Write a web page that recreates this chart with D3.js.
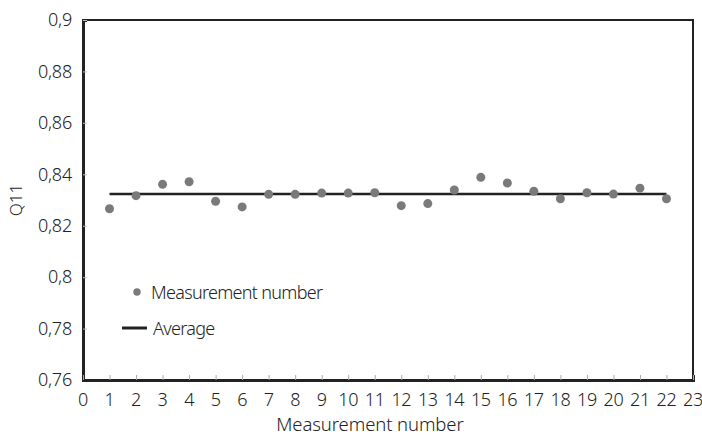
<!DOCTYPE html>
<html>
<head>
<meta charset="utf-8">
<script src="https://cdn.jsdelivr.net/npm/d3@7"></script>
<style>
  body { margin: 0; background: #fff; }
  text { font-family: "Noto Sans", "DejaVu Sans", sans-serif; font-weight: 300; fill: #222; }
</style>
</head>
<body>
<script>
// measurement number -> Q11 value
const measurements = [1, 2, 3, 4, 5, 6, 7, 8, 9, 10, 11, 12, 13, 14, 15, 16, 17, 18, 19, 20, 21, 22];
const q11Values = [0.8266, 0.8317, 0.8361, 0.8371, 0.8295, 0.8273, 0.8322, 0.8322, 0.8327, 0.8327, 0.8328,
                   0.8278, 0.8286, 0.8339, 0.8388, 0.8366, 0.8334, 0.8305, 0.8328, 0.8323, 0.8346, 0.8305];
const average = 0.8323;
const yTicks = [0.76, 0.78, 0.8, 0.82, 0.84, 0.86, 0.88, 0.9];
const xTicks = d3.range(0, 24);

const WIDTH = 702, HEIGHT = 438;
const MARGIN = { top: 20, right: 9, bottom: 58, left: 83 };

const x = d3.scaleLinear().domain([0, 23]).range([MARGIN.left, WIDTH - MARGIN.right]);
const y = d3.scaleLinear().domain([0.76, 0.9]).range([HEIGHT - MARGIN.bottom, MARGIN.top]);

const svg = d3.select('body').append('svg')
  .attr('width', WIDTH)
  .attr('height', HEIGHT);

// frame
svg.append('rect')
  .attr('x', x(0)).attr('y', y(0.9))
  .attr('width', x(23) - x(0)).attr('height', y(0.76) - y(0.9))
  .attr('fill', 'none').attr('stroke', '#222').attr('stroke-width', 2);

const fmt = (d) => String(+d.toFixed(2)).replace('.', ',');

const yAxis = svg.append('g')
  .attr('transform', `translate(${x(0)},0)`)
  .call(d3.axisRight(y).tickValues(yTicks).tickSize(4).tickFormat(''));
yAxis.select('.domain').attr('stroke', '#222').attr('stroke-width', 3);
yAxis.selectAll('.tick line').attr('stroke', '#bbb');

svg.append('g').selectAll('text')
  .data(yTicks)
  .enter().append('text')
    .attr('x', x(0) - 11)
    .attr('y', (d) => y(d))
    .attr('dy', '.35em')
    .attr('text-anchor', 'end')
    .attr('font-size', 18)
    .attr('letter-spacing', -0.2)
    .text(fmt);

const xAxis = svg.append('g')
  .attr('transform', `translate(0,${y(0.76)})`)
  .call(d3.axisTop(x).tickValues(xTicks).tickSize(5).tickFormat(''));
xAxis.select('.domain').attr('stroke', '#222').attr('stroke-width', 3);
xAxis.selectAll('.tick line').attr('stroke', '#aaa');

svg.append('g').selectAll('text')
  .data(xTicks)
  .enter().append('text')
    .attr('x', (d) => x(d))
    .attr('y', 406)
    .attr('text-anchor', 'middle')
    .attr('font-size', 18)
    .attr('letter-spacing', -0.4)
    .text((d) => d);

svg.append('text')
  .attr('x', 370)
  .attr('y', 431)
  .attr('text-anchor', 'middle')
  .attr('font-size', 18.5)
  .attr('letter-spacing', -0.1)
  .text('Measurement number');

svg.append('text')
  .attr('transform', `translate(22,${(y(0.76) + y(0.9)) / 2}) rotate(-90)`)
  .attr('text-anchor', 'middle')
  .attr('font-size', 17)
  .text('Q11');

// average line
svg.append('line')
  .attr('x1', x(1)).attr('x2', x(22))
  .attr('y1', y(average)).attr('y2', y(average))
  .attr('stroke', '#222').attr('stroke-width', 2.5);

// points
svg.append('g').selectAll('circle')
  .data(measurements)
  .enter().append('circle')
    .attr('cx', (d) => x(d))
    .attr('cy', (d, i) => y(q11Values[i]))
    .attr('r', 4.5)
    .attr('fill', '#7a7a7a');

// legend
const legend = svg.append('g');
legend.append('circle').attr('cx', 137).attr('cy', 292).attr('r', 3.7).attr('fill', '#7a7a7a');
legend.append('text').attr('x', 151).attr('y', 299).attr('font-size', 18).attr('letter-spacing', -0.7)
  .text('Measurement number');
legend.append('line').attr('x1', 122).attr('x2', 147).attr('y1', 328).attr('y2', 328)
  .attr('stroke', '#222').attr('stroke-width', 3);
legend.append('text').attr('x', 153).attr('y', 335).attr('font-size', 18).attr('letter-spacing', -0.7)
  .text('Average');
</script>
</body>
</html>
